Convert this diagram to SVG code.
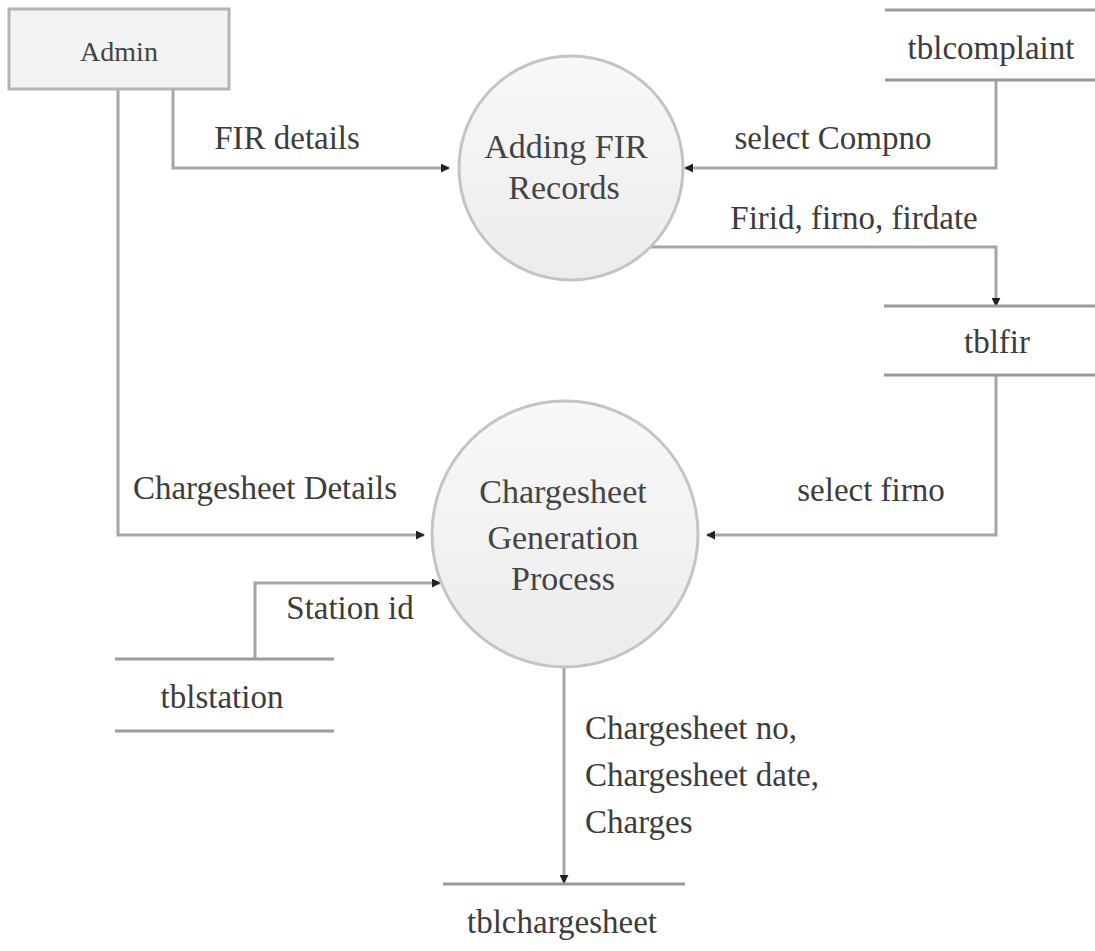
<svg xmlns="http://www.w3.org/2000/svg" width="1095" height="951" viewBox="0 0 1095 951">
  <defs>
    <style>
      .lbl { font-family: "Liberation Serif", "Times New Roman", serif; font-size: 33px; fill: #3c3c3c; }
      .ttl { font-family: "Liberation Serif", "Times New Roman", serif; font-size: 34px; fill: #444; text-anchor: middle; }
      .flow { fill: none; stroke: #a6a6a6; stroke-width: 3; }
      .store { stroke: #9a9a9a; stroke-width: 3; }
      .proc { fill: url(#procFill); stroke: #c4c4c4; stroke-width: 3; }
    </style>
    <linearGradient id="procFill" x1="0" y1="0" x2="0" y2="1">
      <stop offset="0" stop-color="#f8f8f8"/>
      <stop offset="1" stop-color="#ececec"/>
    </linearGradient>
    <marker id="arrow" viewBox="0 0 10 10" refX="9" refY="5" markerWidth="3" markerHeight="3" orient="auto" markerUnits="strokeWidth">
      <path d="M0,0 L10,5 L0,10 z" fill="#222"/>
    </marker>
  </defs>

  <rect width="1095" height="951" fill="#ffffff"/>

  <!-- data flows -->
  <g id="connectors">
    <polyline class="flow" points="173,90 173,168 449,168" marker-end="url(#arrow)"/>
    <polyline class="flow" points="996,80 996,168 685,168" marker-end="url(#arrow)"/>
    <polyline class="flow" points="650,247 996,247 996,306" marker-end="url(#arrow)"/>
    <polyline class="flow" points="118,90 118,535 424,535" marker-end="url(#arrow)"/>
    <polyline class="flow" points="996,375 996,535 707,535" marker-end="url(#arrow)"/>
    <polyline class="flow" points="255,659 255,583 440,583" marker-end="url(#arrow)"/>
    <polyline class="flow" points="564,668 564,883" marker-end="url(#arrow)"/>

    <text class="lbl" x="287" y="149" text-anchor="middle">FIR details</text>
    <text class="lbl" x="833" y="149" text-anchor="middle">select Compno</text>
    <text class="lbl" x="854" y="229" text-anchor="middle">Firid, firno, firdate</text>
    <text class="lbl" x="265" y="499" text-anchor="middle">Chargesheet Details</text>
    <text class="lbl" x="871" y="501" text-anchor="middle">select firno</text>
    <text class="lbl" x="350" y="619" text-anchor="middle">Station id</text>
    <text class="lbl" x="585" y="739">Chargesheet no,</text>
    <text class="lbl" x="585" y="786">Chargesheet date,</text>
    <text class="lbl" x="585" y="833">Charges</text>
  </g>

  <!-- external entity -->
  <g id="admin">
    <rect x="9" y="9" width="220" height="80" fill="#f3f3f3" stroke="#b4b4b4" stroke-width="3"/>
    <text x="119" y="61" font-family="Liberation Serif, serif" font-size="28" fill="#444" text-anchor="middle">Admin</text>
  </g>

  <!-- processes -->
  <g id="adding-fir-records">
    <circle class="proc" cx="571" cy="168" r="112"/>
    <text class="ttl" x="566" y="158">Adding FIR</text>
    <text class="ttl" x="564" y="199">Records</text>
  </g>

  <g id="chargesheet-generation">
    <circle class="proc" cx="565" cy="534" r="133"/>
    <text class="ttl" x="563" y="503">Chargesheet</text>
    <text class="ttl" x="563" y="549">Generation</text>
    <text class="ttl" x="563" y="590">Process</text>
  </g>

  <!-- data stores -->
  <g id="tblcomplaint">
    <line class="store" x1="885" y1="10" x2="1095" y2="10"/>
    <line class="store" x1="885" y1="80" x2="1095" y2="80"/>
    <text class="lbl" x="991" y="59" text-anchor="middle">tblcomplaint</text>
  </g>

  <g id="tblfir">
    <line class="store" x1="884" y1="306" x2="1095" y2="306"/>
    <line class="store" x1="884" y1="375" x2="1095" y2="375"/>
    <text class="lbl" x="997" y="353" text-anchor="middle">tblfir</text>
  </g>

  <g id="tblstation">
    <line class="store" x1="115" y1="659" x2="334" y2="659"/>
    <line class="store" x1="115" y1="731" x2="334" y2="731"/>
    <text class="lbl" x="222" y="708" text-anchor="middle">tblstation</text>
  </g>

  <g id="tblchargesheet">
    <line class="store" x1="443" y1="884" x2="685" y2="884"/>
    <text class="lbl" x="562" y="933" text-anchor="middle">tblchargesheet</text>
  </g>
</svg>
